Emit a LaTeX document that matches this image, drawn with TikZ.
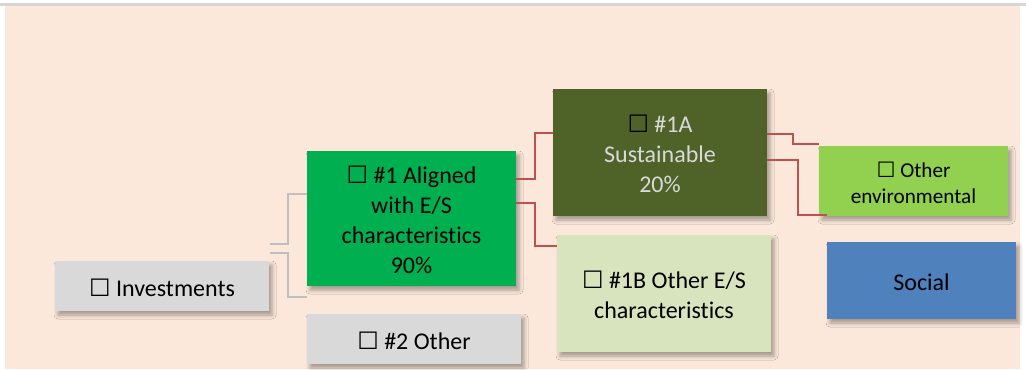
\documentclass[tikz,border=0pt]{standalone}
\usepackage{fontspec}
\setmainfont{Carlito}[Ligatures=NoCommon]
\newfontfamily\symfont{DejaVu Sans}
\usetikzlibrary{shadows.blur,calc}
\definecolor{peach}{HTML}{FBE8DA}
\definecolor{boxgray}{HTML}{D9D9D9}
\definecolor{topgray}{HTML}{D6D6D6}
\definecolor{aligngreen}{HTML}{00B050}
\definecolor{olive}{HTML}{4F6228}
\definecolor{palegreen}{HTML}{D7E4BD}
\definecolor{limegreen}{HTML}{92D050}
\definecolor{socialblue}{HTML}{4F81BD}
\definecolor{redline}{HTML}{C0504D}
\definecolor{grayline}{HTML}{BFBFBF}
\definecolor{lighttext}{HTML}{D9D9D9}
\newcommand{\chk}{{\symfont\char"2610}}
\newcommand{\txt}[1]{\raisebox{-2pt}[\height][\depth]{\begin{tabular}{@{}c@{}}#1\end{tabular}}}
\tikzset{
  box/.style={draw=none, inner sep=0pt, align=center,
    font=\fontsize{12}{15}\selectfont,
    blur shadow={shadow xshift=1.5pt, shadow yshift=-2pt, shadow blur radius=2pt, shadow opacity=35}},
  rline/.style={draw=redline, line width=1pt},
  gline/.style={draw=grayline, line width=1pt},
}
\begin{document}
\begin{tikzpicture}[x=0.5pt,y=-0.5pt]
\useasboundingbox (0,0) rectangle (1026,369);
\fill[topgray] (0,3.5) rectangle (1026,6);
\fill[peach] (5,6) rectangle (1020,369);

\node[box, fill=boxgray, minimum width=107pt, minimum height=25pt] (inv) at (162,286) {\txt{\chk\ Investments}};
\node[box, fill=aligngreen, minimum width=104.5pt, minimum height=67.5pt] (a1) at (411.5,218.5) {\txt{\chk\ \#1 Aligned\\with E/S\\characteristics\\90\%}};
\node[box, fill=boxgray, minimum width=107pt, minimum height=25pt] (o2) at (414,339) {\txt{\chk\ \#2 Other}};
\node[box, fill=olive, text=lighttext, minimum width=107pt, minimum height=63.5pt] (s1a) at (660,152.5) {\txt{\textcolor{black}{\chk}\ \#1A\\Sustainable\\20\%}};
\node[box, fill=palegreen, minimum width=107pt, minimum height=58.5pt] (s1b) at (664,293.5) {\txt{\chk\ \#1B Other E/S\\characteristics}};
\node[box, fill=limegreen, minimum width=94.5pt, minimum height=35pt, font=\fontsize{10.6}{13}\selectfont] (oe) at (913.5,181) {\txt{\chk\ Other\\environmental}};
\node[box, fill=socialblue, minimum width=94.5pt, minimum height=38.5pt] (soc) at (921.5,280.5) {\txt{Social}};

\draw[gline] ([xshift=0.5pt,yshift=8.5pt]inv.north east) -- ++(18,0) |- ([yshift=-21.5pt]a1.north west);
\draw[gline] ([xshift=0.5pt,yshift=4pt]inv.north east) -- ++(18,0) |- ([yshift=8.5pt]o2.north west);

\draw[rline] ([yshift=19.75pt]a1.east) -- ++(19,0) |- ([yshift=9.75pt]s1a.west);
\draw[rline] ([yshift=7.75pt]a1.east) -- ++(19,0) |- ([yshift=-5.5pt]s1b.north west);
\draw[rline] ([yshift=-22.5pt]s1a.north east) -- ++(26,0) |- ([yshift=1pt]oe.north west);
\draw[rline] ([yshift=-35.5pt]s1a.north east) -- ++(31,0) |- ([xshift=4pt,yshift=0.5pt]oe.south west);
\end{tikzpicture}
\end{document}
